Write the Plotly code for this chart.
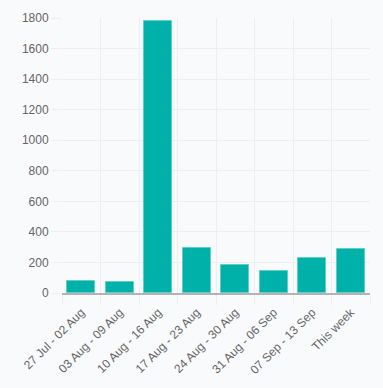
import plotly.graph_objects as go

categories = ["27 Jul - 02 Aug", "03 Aug - 09 Aug", "10 Aug - 16 Aug", "17 Aug - 23 Aug",
              "24 Aug - 30 Aug", "31 Aug - 06 Sep", "07 Sep - 13 Sep", "This week"]
values = [77, 71, 1780, 293, 183, 143, 228, 287]
y_ticks = [0, 200, 400, 600, 800, 1000, 1200, 1400, 1600, 1800]

xs = list(range(len(categories)))

fig = go.Figure(go.Bar(
    x=xs, y=values, width=0.73,
    marker=dict(color="#00b1a9", line=dict(color="#5fcfc9", width=1)),
))

bg = "#f9fafc"
grid = "#eceef1"
fig.update_layout(
    width=383, height=388,
    margin=dict(l=62, r=13, t=18, b=95),
    paper_bgcolor=bg, plot_bgcolor=bg,
    font=dict(family="Liberation Sans, Arial, sans-serif", size=12, color="#666666"),
    showlegend=False,
    bargap=0,
)
fig.update_xaxes(
    range=[-0.5, len(categories) - 0.5], automargin=False,
    tickmode="array", tickvals=xs, ticktext=categories, tickangle=-45,
    showgrid=False, ticks="outside", ticklen=6, tickcolor="rgba(0,0,0,0)", zeroline=False,
    showline=True, linecolor="#b3b3b3", linewidth=1.5,
    minor=dict(tickmode="linear", tick0=-0.5, dtick=1, showgrid=True, gridcolor=grid,
               gridwidth=1, ticks="outside", ticklen=10, tickcolor=grid),
    tickfont=dict(size=12, color="#666666"),
)
fig.update_yaxes(
    range=[0, 1800], tickmode="array", tickvals=y_ticks, automargin=False,
    showgrid=True, gridcolor=grid, gridwidth=1, zeroline=False,
    ticks="outside", ticklen=10, tickcolor=grid,
    showline=False,
    tickfont=dict(size=12, color="#666666"),
)
fig.write_html(
    "out.html",
    config={"displayModeBar": False},
    post_script="document.body.style.margin='0';document.body.style.overflow='hidden';"
                "document.body.style.background='" + bg + "';",
)
